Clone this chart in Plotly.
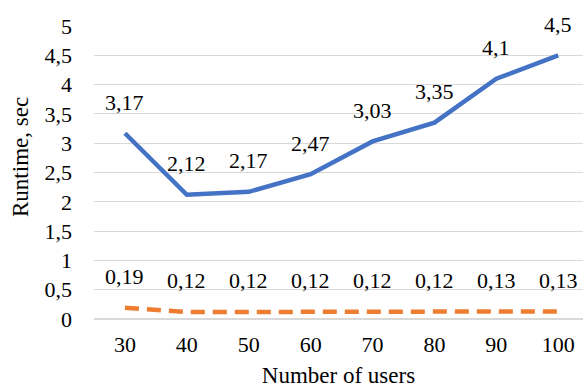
import plotly.graph_objects as go

users = ["30", "40", "50", "60", "70", "80", "90", "100"]
runtime_main = [3.17, 2.12, 2.17, 2.47, 3.03, 3.35, 4.1, 4.5]
runtime_second = [0.19, 0.12, 0.12, 0.12, 0.12, 0.12, 0.13, 0.13]
y_ticks = [0, 0.5, 1, 1.5, 2, 2.5, 3, 3.5, 4, 4.5, 5]

FONT = "Times New Roman, Liberation Serif, serif"
SIZE = 22
TITLE_SIZE = 23
BLUE = "#4472C4"
ORANGE = "#ED7D31"


def fmt(v):
    s = f"{v:.2f}".rstrip("0").rstrip(".")
    return s.replace(".", ",")


pos = list(range(len(users)))

fig = go.Figure()
fig.add_trace(go.Scatter(x=pos, y=runtime_main, mode="lines",
                         line=dict(color=BLUE, width=4.5), showlegend=False))
fig.add_trace(go.Scatter(x=pos, y=runtime_second, mode="lines",
                         line=dict(color=ORANGE, width=4.5, dash="14px,8px"),
                         showlegend=False))

annotations = []
for ys in (runtime_main, runtime_second):
    for i, y in zip(pos, ys):
        annotations.append(dict(x=i, y=y, text=fmt(y), showarrow=False,
                                yshift=31, font=dict(family=FONT, size=SIZE, color="#000")))

# value-axis title, placed near the left edge of the figure
annotations.append(dict(text="Runtime, sec", textangle=-90, showarrow=False,
                        xref="paper", yref="paper", x=0, y=0.553,
                        xanchor="center", yanchor="middle", xshift=-73,
                        font=dict(family=FONT, size=TITLE_SIZE, color="#000")))

fig.update_layout(
    width=583, height=388,
    margin=dict(l=94, r=0, t=26, b=69),
    paper_bgcolor="white", plot_bgcolor="white",
    font=dict(family=FONT, size=SIZE, color="#000"),
    annotations=annotations,
    xaxis=dict(range=[-0.5, len(users) - 0.6], tickvals=pos, ticktext=users,
               tickfont=dict(family=FONT, size=SIZE),
               showgrid=False, showline=False, ticks="", zeroline=False,
               ticklabelstandoff=10,
               title=dict(text="Number of users", standoff=15,
                          font=dict(family=FONT, size=TITLE_SIZE))),
    yaxis=dict(range=[0, 5], tickvals=y_ticks,
               ticktext=[fmt(v) for v in y_ticks],
               tickfont=dict(family=FONT, size=SIZE),
               showgrid=True, gridcolor="#D9D9D9", gridwidth=1,
               zeroline=True, zerolinecolor="#D9D9D9", zerolinewidth=1.5,
               showline=False, ticks="",
               ticklabelstandoff=21),
)

fig.write_html("out.html")
